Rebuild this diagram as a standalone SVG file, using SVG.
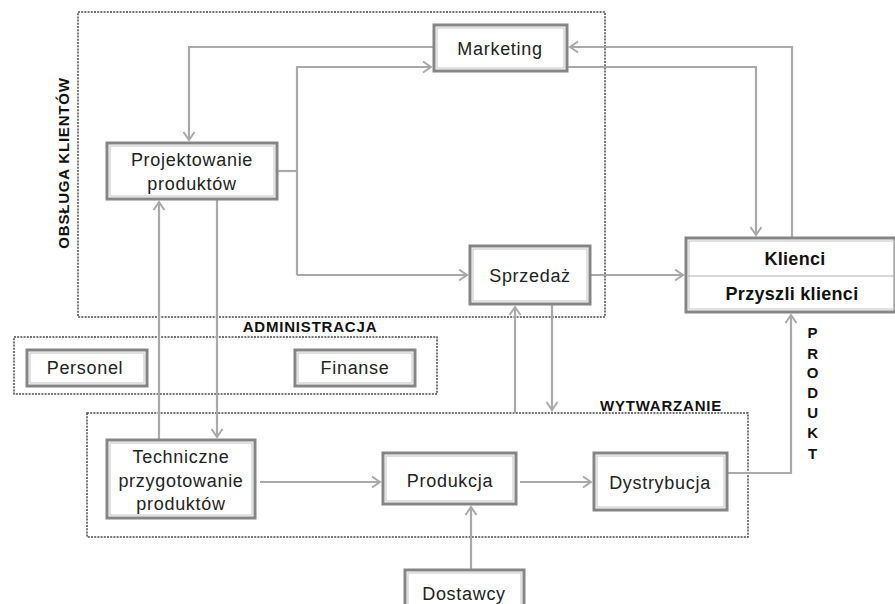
<svg xmlns="http://www.w3.org/2000/svg" width="895" height="604" viewBox="0 0 895 604">
<style>
.bg{fill:#fff}
.box{fill:#fff;stroke:#858585;stroke-width:3}
.inner{fill:none;stroke:#c4c4c4;stroke-width:1}
.grp{fill:none;stroke:#4a4a4a;stroke-width:1.5;stroke-dasharray:2 1.2}
.con{fill:none;stroke:#a9a9a9;stroke-width:2.2}
.t{font-family:"Liberation Sans",Arial,sans-serif;font-size:18px;fill:#222;text-anchor:middle;letter-spacing:0.7px}
.tb{font-family:"Liberation Sans",Arial,sans-serif;font-size:18px;font-weight:bold;fill:#111;text-anchor:middle;letter-spacing:0.3px}
.lbl{font-family:"Liberation Sans",Arial,sans-serif;font-size:15px;font-weight:bold;fill:#111;text-anchor:middle;letter-spacing:0.8px}
</style>
<defs>
<marker id="ah" viewBox="-10 -7 12 14" refX="0" refY="0" markerWidth="12" markerHeight="14" markerUnits="userSpaceOnUse" orient="auto">
<path d="M-8,-5.5 L0,0 L-8,5.5" fill="none" stroke="#a9a9a9" stroke-width="2"/>
</marker>
</defs>
<rect class="bg" x="0" y="0" width="895" height="604"/>

<g id="groups">
<g id="obsluga">
<rect class="grp" x="78" y="12" width="527" height="305"/>
<text class="lbl" transform="translate(69,163) rotate(-90)">OBSŁUGA KLIENTÓW</text>
</g>
<g id="administracja">
<rect class="grp" x="14" y="337" width="423" height="57"/>
<text class="lbl" x="310" y="332">ADMINISTRACJA</text>
</g>
<g id="wytwarzanie">
<rect class="grp" x="87" y="413" width="661" height="124"/>
<text class="lbl" x="661" y="411">WYTWARZANIE</text>
</g>
</g>

<g id="connectors">
<path class="con" d="M434,47 H189 V140" marker-end="url(#ah)"/>
<path class="con" d="M277,171 H297"/>
<path class="con" d="M297,275 V67 H431" marker-end="url(#ah)"/>
<path class="con" d="M297,275 H467" marker-end="url(#ah)"/>
<path class="con" d="M792,238 V47 H570" marker-end="url(#ah)"/>
<path class="con" d="M567,67 H756 V235" marker-end="url(#ah)"/>
<path class="con" d="M590,275 H683" marker-end="url(#ah)"/>
<path class="con" d="M217,199 V437" marker-end="url(#ah)"/>
<path class="con" d="M159,440 V202" marker-end="url(#ah)"/>
<path class="con" d="M515,413 V307" marker-end="url(#ah)"/>
<path class="con" d="M552,304 V410" marker-end="url(#ah)"/>
<path class="con" d="M260,482 H380" marker-end="url(#ah)"/>
<path class="con" d="M520,482 H591" marker-end="url(#ah)"/>
<path class="con" d="M471,570 V507" marker-end="url(#ah)"/>
<path class="con" d="M727,473 H791 V315" marker-end="url(#ah)"/>
<g class="lbl">
<text class="lbl" x="813" y="338">P</text>
<text class="lbl" x="813" y="359">R</text>
<text class="lbl" x="813" y="378">O</text>
<text class="lbl" x="813" y="398">D</text>
<text class="lbl" x="813" y="418">U</text>
<text class="lbl" x="813" y="438">K</text>
<text class="lbl" x="813" y="459">T</text>
</g>
</g>

<g id="marketing">
<rect class="box" x="434" y="25" width="133" height="46"/>
<rect class="inner" x="437" y="28" width="127" height="40"/>
<text class="t" x="500" y="55">Marketing</text>
</g>
<g id="projektowanie">
<rect class="box" x="107" y="143" width="170" height="56"/>
<rect class="inner" x="110" y="146" width="164" height="50"/>
<text class="t" x="192" y="166">Projektowanie</text>
<text class="t" x="192" y="190">produktów</text>
</g>
<g id="sprzedaz">
<rect class="box" x="470" y="246" width="120" height="58"/>
<rect class="inner" x="473" y="249" width="114" height="52"/>
<text class="t" x="530" y="282">Sprzedaż</text>
</g>
<g id="klienci">
<rect class="box" x="686" y="238" width="209" height="74"/>
<rect class="inner" x="689" y="241" width="206" height="68"/>
<line x1="688" y1="276" x2="895" y2="276" stroke="#b0b0b0" stroke-width="1.2"/>
<text class="tb" x="795" y="265">Klienci</text>
<text class="tb" x="792" y="300">Przyszli klienci</text>
</g>
<g id="personel">
<rect class="box" x="27" y="350" width="120" height="36"/>
<rect class="inner" x="30" y="353" width="114" height="30"/>
<text class="t" x="85" y="374">Personel</text>
</g>
<g id="finanse">
<rect class="box" x="295" y="350" width="120" height="36"/>
<rect class="inner" x="298" y="353" width="114" height="30"/>
<text class="t" x="355" y="374">Finanse</text>
</g>
<g id="techniczne">
<rect class="box" x="107" y="440" width="148" height="78"/>
<rect class="inner" x="110" y="443" width="142" height="72"/>
<text class="t" x="181" y="463">Techniczne</text>
<text class="t" x="181" y="487">przygotowanie</text>
<text class="t" x="181" y="510">produktów</text>
</g>
<g id="produkcja">
<rect class="box" x="383" y="453" width="133" height="51"/>
<rect class="inner" x="386" y="456" width="127" height="45"/>
<text class="t" x="450" y="487">Produkcja</text>
</g>
<g id="dystrybucja">
<rect class="box" x="594" y="453" width="133" height="57"/>
<rect class="inner" x="597" y="456" width="127" height="51"/>
<text class="t" x="660" y="489">Dystrybucja</text>
</g>
<g id="dostawcy">
<rect class="box" x="405" y="570" width="119" height="44"/>
<rect class="inner" x="408" y="573" width="113" height="38"/>
<text class="t" x="464" y="600">Dostawcy</text>
</g>
</svg>
